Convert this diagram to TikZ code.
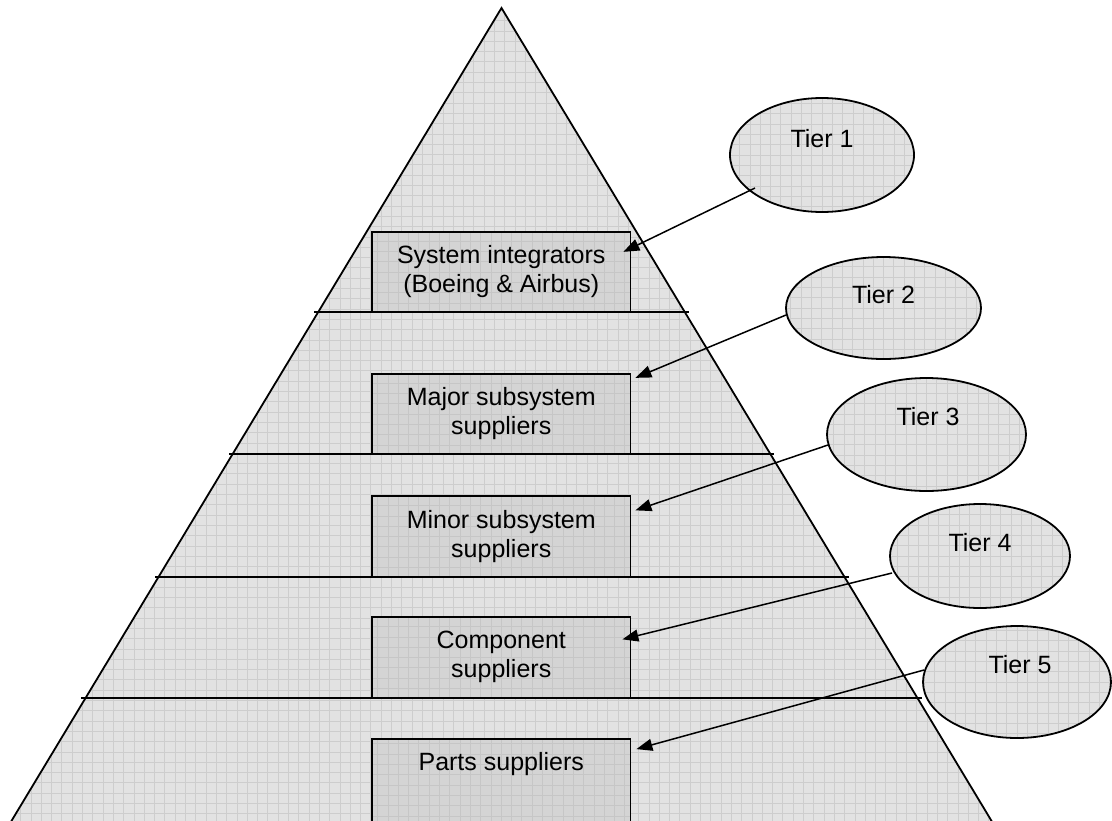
\documentclass[tikz,border=0pt]{standalone}
\usepackage{fontspec}
\setmainfont{Liberation Sans}
\usetikzlibrary{arrows.meta,shapes.geometric,calc}

\definecolor{paper}{HTML}{E2E2E2}
\definecolor{paperline}{HTML}{CDCDCD}
\definecolor{boxfill}{HTML}{D4D4D4}
\definecolor{boxline}{HTML}{C6C6C6}

\tikzset{
  gridded/.style 2 args={fill=#1,
    path picture={\draw[line width=0.8pt,#2]
      (path picture bounding box.south west) grid[step=10.3pt]
      (path picture bounding box.north east);}},
  outline/.style={draw=black, line width=1.8pt},
  tierbox/.style={rectangle, outline, gridded={boxfill}{boxline},
    minimum width=258.5pt, minimum height=80.5pt, inner sep=0pt},
  tierbubble/.style={ellipse, outline, gridded={paper}{paperline}, inner sep=0pt},
  boxtext/.style={font=\fontsize{25}{29}\selectfont, align=center,
    inner sep=0pt, anchor=north},
  tiertext/.style={font=\fontsize{25}{29}\selectfont, inner sep=0pt},
  level/.style={line width=1.8pt},
  pointer/.style={line width=1.5pt, -{Triangle[length=16pt,width=12pt]}},
}

\begin{document}
\begin{tikzpicture}[x=1pt,y=-1pt]
\useasboundingbox (0,0) rectangle (1112,820);

% pyramid (its base lies just below the page edge)
\coordinate (apex) at (501.5,8);
\coordinate (bl) at (10.8,822);
\coordinate (br) at (992.2,822);
\draw[outline, gridded={paper}{paperline}] (apex) -- (bl) -- (br) -- cycle;

% level separators
\draw[level] (314,312) -- (689,312);
\draw[level] (229,454) -- (774,454);
\draw[level] (155,577) -- (849,577);
\draw[level] (81,698) -- (922,698);

% tier boxes
\node[tierbox] (b1) at (501.25,272) {};
\node[tierbox] (b2) at (501.25,414) {};
\node[tierbox] (b3) at (501.25,536.5) {};
\node[tierbox] (b4) at (501.25,657.5) {};
\node[tierbox, minimum height=92pt] (b5) at (501.25,785) {};

\node[boxtext] (l1) at ($(b1.north)+(0,14.5)$) {System integrators\\(Boeing \& Airbus)};
\node[boxtext] (l2) at ($(b2.north)+(0,14.5)$) {Major subsystem\\suppliers};
\node[boxtext] (l3) at ($(b3.north)+(0,14.5)$) {Minor subsystem\\suppliers};
\node[boxtext] (l4) at ($(b4.north)+(0,14.5)$) {Component\\suppliers};
\node[boxtext] (l5) at ($(b5.north)+(0,14.5)$) {Parts suppliers};

% tier bubbles
\node[tierbubble, minimum width=184pt, minimum height=114pt] (t1) at (822,155) {};
\node[tierbubble, minimum width=195pt, minimum height=102pt] (t2) at (883.5,308) {};
\node[tierbubble, minimum width=199pt, minimum height=113pt] (t3) at (926.5,434.5) {};
\node[tierbubble, minimum width=180pt, minimum height=104pt] (t4) at (980,556) {};
\node[tierbubble, minimum width=188pt, minimum height=112pt] (t5) at (1017,682) {};

\node[tiertext] (n1) at ($(t1.center)+(0,-16)$) {Tier 1};
\node[tiertext] (n2) at ($(t2.center)+(0,-13)$) {Tier 2};
\node[tiertext] (n3) at ($(t3.center)+(1.5,-17.5)$) {Tier 3};
\node[tiertext] (n4) at ($(t4.center)+(0,-13)$) {Tier 4};
\node[tiertext] (n5) at ($(t5.center)+(3,-17)$) {Tier 5};

% pointers from bubbles to boxes
\draw[pointer] ($(t1.center)+(-67,33)$) -- ($(b1.north east)+(-8,21)$);
\draw[pointer] ($(t2.center)+(-97.5,7)$) -- ($(b2.north east)+(4,5)$);
\draw[pointer] ($(t3.center)+(-98.5,10.5)$) -- ($(b3.north east)+(4,15)$);
\draw[pointer] ($(t4.center)+(-88,17)$) -- ($(b4.north east)+(-9,23)$);
\draw[pointer] ($(t5.center)+(-93,-12)$) -- ($(b5.north east)+(5,11)$);
\end{tikzpicture}
\end{document}
